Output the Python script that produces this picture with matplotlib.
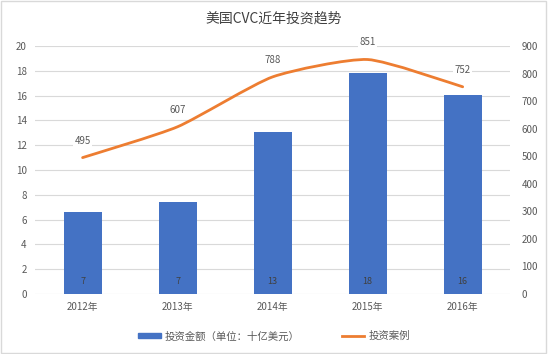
import numpy as np
import matplotlib
matplotlib.use("Agg")
import matplotlib.pyplot as plt
from matplotlib.path import Path
from matplotlib.patches import PathPatch, Rectangle
from matplotlib.lines import Line2D

plt.rcParams['font.family'] = ['Noto Sans CJK SC', 'DejaVu Sans']

years = ["2012年", "2013年", "2014年", "2015年", "2016年"]
amount = [6.6, 7.4, 13.05, 17.8, 16.05]        # 十亿美元
amount_labels = ["7", "7", "13", "18", "16"]
cases = [495, 607, 788, 851, 752]

title = "美国CVC近年投资趋势"
bar_name = "投资金额（单位：十亿美元）"
line_name = "投资案例"

blue = '#4472C4'
orange = '#ED7D31'
grid_c = '#D9D9D9'
text_c = '#595959'


def smooth_path(xs, ys, t=0.1):
    # bezier through the points, a light smoothing like Excel's
    verts = [(xs[0], ys[0])]
    codes = [Path.MOVETO]
    n = len(xs)
    for i in range(n - 1):
        x0, y0 = (xs[i - 1], ys[i - 1]) if i > 0 else (xs[i], ys[i])
        x1, y1 = xs[i], ys[i]
        x2, y2 = xs[i + 1], ys[i + 1]
        x3, y3 = (xs[i + 2], ys[i + 2]) if i + 2 < n else (x2, y2)
        verts += [(x1 + (x2 - x0) * t, y1 + (y2 - y0) * t),
                  (x2 - (x3 - x1) * t, y2 - (y3 - y1) * t),
                  (x2, y2)]
        codes += [Path.CURVE4] * 3
    return Path(verts, codes)


def main():
    fig = plt.figure(figsize=(5.48, 3.54), dpi=100)
    fig.patches.append(Rectangle((0.002, 0.003), 0.995, 0.993, transform=fig.transFigure,
                                 fill=False, edgecolor=grid_c, linewidth=1))
    ax = fig.add_axes([0.064, 0.1695, 0.867, 0.7005])
    x = np.arange(len(years))

    ax.bar(x, amount, 0.4, color=blue, zorder=2)
    for xi, lab in zip(x, amount_labels):
        ax.text(xi, 1.0, lab, ha='center', va='center', fontsize=6.5, color='#404040', zorder=3)

    ax.set_xlim(-0.5, len(years) - 0.5)
    ax.set_ylim(0, 20)
    ax.set_yticks(range(0, 21, 2))
    ax.set_xticks(x)
    ax.set_xticklabels(years)
    ax.grid(axis='y', color=grid_c, linewidth=0.8, zorder=0)
    ax.set_axisbelow(True)
    for s in ax.spines.values():
        s.set_visible(False)
    ax.tick_params(axis='both', length=0, labelsize=7, labelcolor=text_c, pad=6)

    ax2 = ax.twinx()
    ax2.set_ylim(0, 900)
    ax2.set_yticks(range(0, 901, 100))
    for s in ax2.spines.values():
        s.set_visible(False)
    ax2.tick_params(axis='y', length=0, labelsize=7, labelcolor=text_c, pad=8)
    ax2.add_patch(PathPatch(smooth_path(x, cases), fill=False, edgecolor=orange,
                            linewidth=2.0, capstyle='round', zorder=4))
    for xi, v in zip(x, cases):
        ax2.text(xi, v + 62, str(v), ha='center', va='center', fontsize=7, color=text_c,
                 bbox=dict(boxstyle='square,pad=0.15', facecolor='white', edgecolor='none'),
                 zorder=5)

    fig.text(0.5, 0.948, title, ha='center', va='center', fontsize=10, color='#404040')

    handles = [Rectangle((0, 0), 1, 1, color=blue),
               Line2D([0], [0], color=orange, linewidth=2.0)]
    fig.legend(handles, [bar_name, line_name], loc='center', bbox_to_anchor=(0.5, 0.05),
               ncol=2, frameon=False, fontsize=7.5, labelcolor=text_c,
               handlelength=2.2, handleheight=0.45, columnspacing=4, handletextpad=0.4)

    fig.savefig("out.png", dpi=100)


if __name__ == "__main__":
    main()
